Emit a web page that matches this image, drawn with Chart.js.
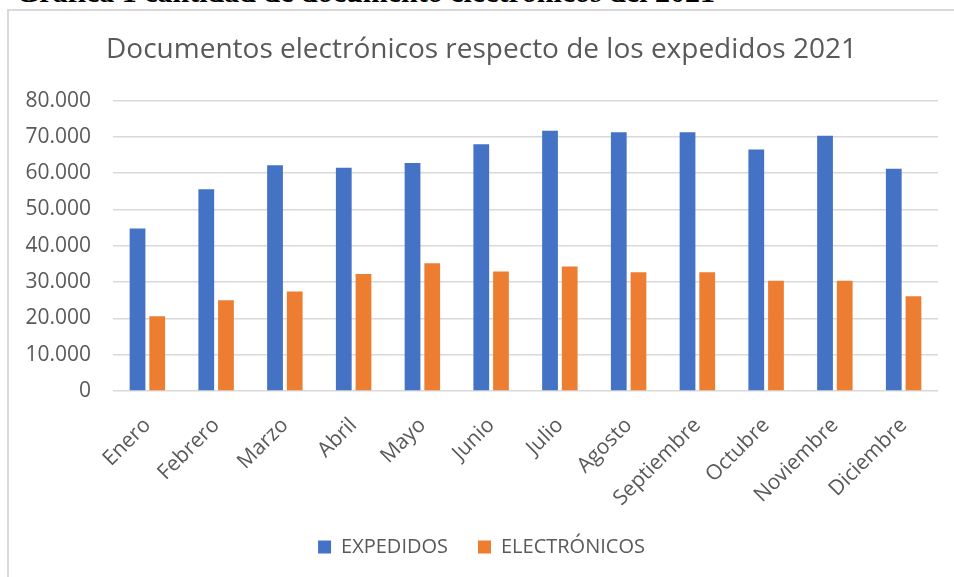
<!DOCTYPE html>
<html lang="es">
<head>
    <meta charset="UTF-8">
    <script src="https://cdn.jsdelivr.net/npm/chart.js"></script>
    <title>Documentos electrónicos 2021</title>
    <style>
        html, body {
            margin: 0;
            padding: 0;
            width: 954px;
            height: 577px;
            overflow: hidden;
            background: #fff;
        }
        #caption {
            position: absolute;
            left: 16px;
            top: -23px;
            font-family: "Liberation Serif", serif;
            font-weight: bold;
            font-size: 30px;
            line-height: 30px;
            color: #000;
            white-space: nowrap;
        }
        #frame {
            position: absolute;
            left: 7px;
            top: 9px;
            width: 960px;
            height: 600px;
            border-left: 2px solid #d9d9d9;
            border-top: 2px solid #d9d9d9;
            background: #fff;
        }
        #box {
            position: relative;
            width: 954px;
            height: 566px;
        }
    </style>
</head>
<body>
    <div id="caption">Gráfica 1 cantidad de documento electrónicos del 2021</div>
    <div id="frame">
        <div id="box"><canvas id="docChart"></canvas></div>
    </div>

    <script>
        const meses = ['Enero', 'Febrero', 'Marzo', 'Abril', 'Mayo', 'Junio',
            'Julio', 'Agosto', 'Septiembre', 'Octubre', 'Noviembre', 'Diciembre'];
        const expedidos = [44800, 55600, 62200, 61500, 62800, 68000,
            71700, 71300, 71300, 66500, 70300, 61200];
        const electronicos = [20600, 25000, 27400, 32200, 35200, 32900,
            34300, 32700, 32700, 30400, 30400, 26100];

        const gris = '#595959';

        function fmt(v) {
            return v.toString().replace(/\B(?=(\d{3})+(?!\d))/g, '.');
        }

        const ctx = document.getElementById('docChart').getContext('2d');
        new Chart(ctx, {
            type: 'bar',
            data: {
                labels: meses,
                datasets: [{
                    label: 'EXPEDIDOS',
                    data: expedidos,
                    backgroundColor: '#4472C4'
                }, {
                    label: 'ELECTRÓNICOS',
                    data: electronicos,
                    backgroundColor: '#ED7D31'
                }]
            },
            options: {
                responsive: true,
                maintainAspectRatio: false,
                animation: false,
                datasets: {
                    bar: {
                        categoryPercentage: 0.573,
                        barPercentage: 0.8
                    }
                },
                layout: {
                    padding: { left: 16, right: 25, top: 0, bottom: 10 }
                },
                plugins: {
                    title: {
                        display: true,
                        text: 'Documentos electrónicos respecto de los expedidos 2021',
                        color: gris,
                        font: { family: 'Open Sans', size: 28, weight: 'normal' },
                        padding: { top: 22, bottom: 34 }
                    },
                    legend: {
                        position: 'bottom',
                        labels: {
                            color: gris,
                            font: { family: 'Open Sans', size: 20 },
                            boxWidth: 13,
                            boxHeight: 13,
                            padding: 30
                        }
                    },
                    tooltip: { enabled: false }
                },
                scales: {
                    x: {
                        grid: { display: false },
                        border: { display: false },
                        ticks: {
                            color: gris,
                            font: { family: 'Open Sans', size: 21 },
                            minRotation: 45,
                            maxRotation: 45,
                            padding: 14
                        },
                        afterFit: function (scale) { scale.height = 116; }
                    },
                    y: {
                        min: 0,
                        max: 80000,
                        ticks: {
                            stepSize: 10000,
                            color: gris,
                            font: { family: 'Open Sans', size: 21 },
                            padding: 22,
                            callback: v => fmt(v)
                        },
                        grid: { color: '#d9d9d9', lineWidth: 1.5, drawTicks: false },
                        border: { display: false },
                        afterFit: function (scale) { scale.width = 88; }
                    }
                }
            }
        });
    </script>
</body>
</html>
